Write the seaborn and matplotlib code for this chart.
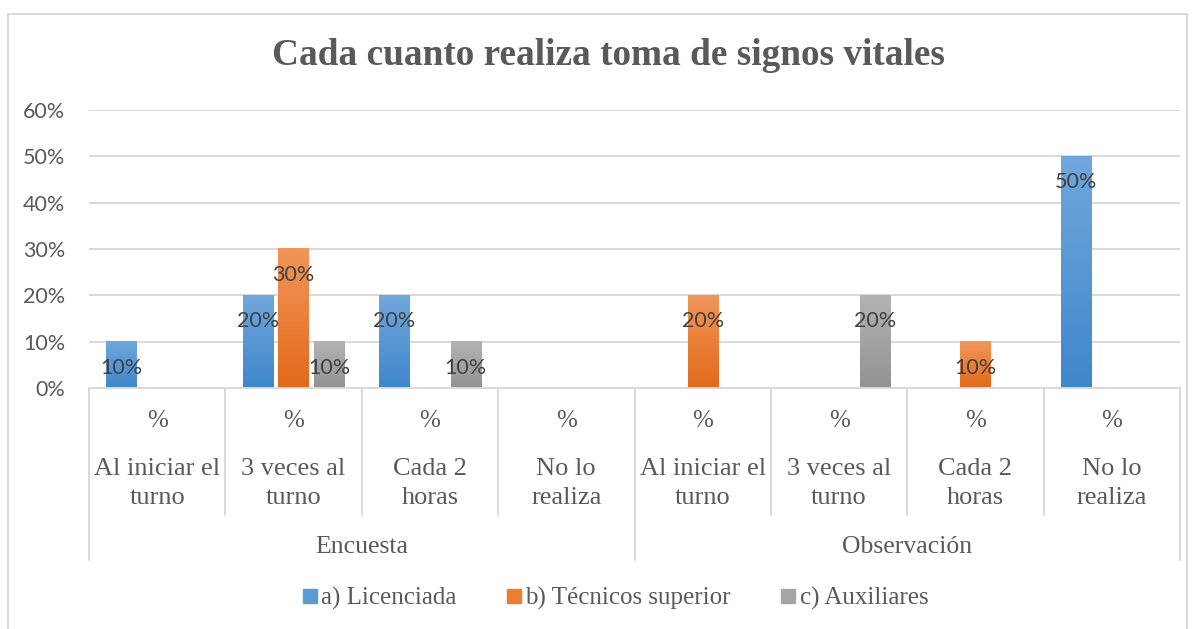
import numpy as np
import pandas as pd
import matplotlib
matplotlib.use("Agg")
import matplotlib.pyplot as plt
import matplotlib.transforms as mtransforms
from matplotlib.colors import LinearSegmentedColormap
from matplotlib.patches import Rectangle
from matplotlib.lines import Line2D
import seaborn as sns

# Datos del grafico
grupos = ["Encuesta", "Observación"]
categorias = ["Al iniciar el\nturno", "3 veces al\nturno", "Cada 2\nhoras", "No lo\nrealiza"]
series = ["a) Licenciada", "b) Técnicos superior", "c) Auxiliares"]
licenciada = [0.10, 0.20, 0.20, 0.0, 0.0, 0.0, 0.0, 0.50]
tecnicos = [0.0, 0.30, 0.0, 0.0, 0.20, 0.0, 0.10, 0.0]
auxiliares = [0.0, 0.10, 0.10, 0.0, 0.0, 0.20, 0.0, 0.0]

colores = {"a) Licenciada": "#5B9BD5", "b) Técnicos superior": "#ED7D31", "c) Auxiliares": "#A5A5A5"}
degradado = {
    "a) Licenciada": ("#3F87CB", "#70A7DD"),
    "b) Técnicos superior": ("#E2691A", "#F2965A"),
    "c) Auxiliares": ("#939393", "#B3B3B3"),
}

claves = [f"{g}|{c}" for g in grupos for c in categorias]
valores = {series[0]: licenciada, series[1]: tecnicos, series[2]: auxiliares}
filas = []
for s in series:
    for k, v in zip(claves, valores[s]):
        filas.append({"cat": k, "serie": s, "valor": v})
df = pd.DataFrame(filas)

sns.set_style("white")
plt.rcParams["font.family"] = ["Lato", "DejaVu Sans"]
serif = ["Liberation Serif", "DejaVu Serif"]
gris = "#D9D9D9"

fig = plt.figure(figsize=(11.97, 6.29), dpi=100)
ax = fig.add_axes([89 / 1197, 241 / 629, (1180 - 89) / 1197, 278 / 629])

sns.barplot(data=df, x="cat", y="valor", hue="serie", order=claves, hue_order=series,
            palette=colores, width=0.79, gap=0.16, saturation=1, legend=False, ax=ax)

# Degradado en las barras y etiquetas de datos
grad = np.linspace(0, 1, 100).reshape(-1, 1)
for cont, s in zip(ax.containers, series):
    cmap = LinearSegmentedColormap.from_list(s, degradado[s])
    for bar in cont:
        h = bar.get_height()
        if h <= 0:
            bar.set_visible(False)
            continue
        x0 = bar.get_x()
        x1 = x0 + bar.get_width()
        bar.set_facecolor("none")
        bar.set_edgecolor("none")
        ax.imshow(grad, cmap=cmap, extent=[x0, x1, 0, h], origin="lower",
                  aspect="auto", zorder=2)
        ax.annotate(f"{h:.0%}", xy=(x0 + bar.get_width() / 2, h), xytext=(0, -26),
                    textcoords="offset pixels", ha="center", va="center",
                    fontsize=15.5, color="#404040", zorder=4)

ax.set_xlim(-0.5, len(claves) - 0.5)
ax.set_ylim(0, 0.6)
ax.set_yticks(np.arange(0, 0.61, 0.1))
ax.set_yticklabels([f"{int(round(t * 100))}%" for t in np.arange(0, 0.61, 0.1)])
ax.tick_params(axis="y", length=0, pad=17, labelsize=15.5, labelcolor="#595959")
ax.set_xticks([])
ax.set_xlabel("")
ax.set_ylabel("")
ax.grid(axis="y", color=gris, lw=1.4)
ax.set_axisbelow(True)
for lado in ["top", "right", "left"]:
    ax.spines[lado].set_visible(False)
ax.spines["bottom"].set_color(gris)
ax.spines["bottom"].set_linewidth(1.4)

# Eje de categorias multinivel
trans = mtransforms.blended_transform_factory(ax.transData, ax.transAxes)
for i, k in enumerate(claves):
    cat = k.split("|")[1]
    ax.text(i, -0.118, "%", transform=trans, ha="center", va="center",
            family=serif, fontsize=18, color="#595959")
    ax.text(i, -0.342, cat, transform=trans, ha="center", va="center",
            family=serif, fontsize=19, color="#595959", linespacing=1.42)
for j, g in enumerate(grupos):
    ax.text(j * len(categorias) + (len(categorias) - 1) / 2, -0.572, g, transform=trans,
            ha="center", va="center", family=serif, fontsize=18.5, color="#595959")

for b in np.arange(-0.5, len(claves), 1):
    extremo = b in (-0.5, 3.5, 7.5)
    ax.add_line(Line2D([b, b], [0, -0.619 if extremo else -0.457], transform=trans,
                       color=gris, lw=1.4, clip_on=False))

# Titulo
fig.text(0.508, 0.912, "Cada cuanto realiza toma de signos vitales", ha="center", va="center",
         family=serif, fontsize=26.8, fontweight="bold", color="#595959")

# Leyenda
manejadores = [Line2D([], [], marker="s", ls="none", markersize=10, color=colores[s]) for s in series]
fig.legend(manejadores, series, loc="center", bbox_to_anchor=(0.513, 0.048), ncol=3,
           frameon=False, prop={"family": serif, "size": 18}, handletextpad=0.05,
           columnspacing=1.9, handlelength=0.8, labelcolor="#595959")

# Marco exterior
fig.patches.append(Rectangle((8 / 1197, -0.01), (1187 - 8) / 1197, (629 - 14) / 629 + 0.01,
                             transform=fig.transFigure, fill=False, ec=gris, lw=1.4))

fig.savefig("out.png", dpi=100)
